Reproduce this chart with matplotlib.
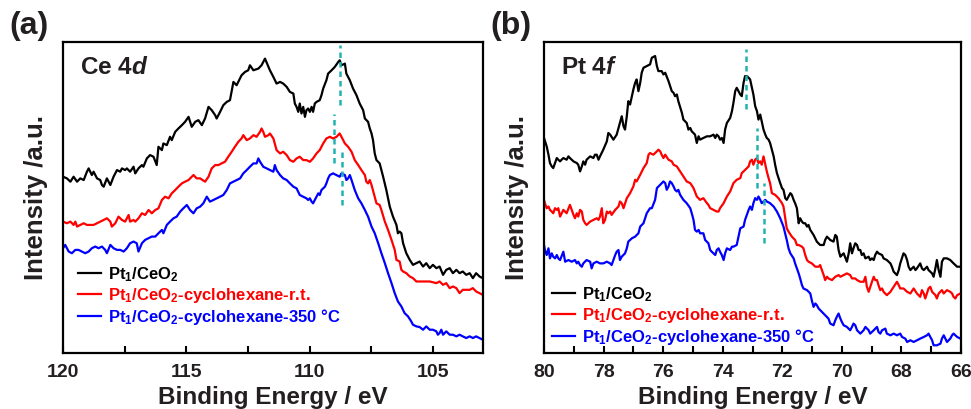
import matplotlib
matplotlib.use("Agg")
import matplotlib.pyplot as plt
from matplotlib.ticker import MultipleLocator

plt.rcParams['font.family'] = ['Liberation Sans', 'DejaVu Sans']
plt.rcParams['font.weight'] = 'bold'
plt.rcParams['mathtext.fontset'] = 'custom'
plt.rcParams['mathtext.rm'] = 'Liberation Sans:bold'
plt.rcParams['mathtext.bf'] = 'Liberation Sans:bold'
plt.rcParams['mathtext.it'] = 'Liberation Sans:bold:italic'

TXT = '#231F20'

# ---------------- Panel (a): Ce 4d ----------------
a_black_be = [120.0, 119.84, 119.70, 119.57, 119.43, 119.30, 119.16, 119.03, 118.96, 118.83, 118.76, 118.62, 118.49, 118.42, 118.35, 118.22, 118.08, 117.95, 117.81, 117.68, 117.61, 117.48, 117.41, 117.28, 117.14, 117.07, 116.94, 116.80, 116.74, 116.60, 116.47, 116.33, 116.20, 116.13, 115.99, 115.93, 115.79, 115.66, 115.59, 115.45, 115.32, 115.18, 115.05, 114.91, 114.78, 114.64, 114.51, 114.37, 114.24, 114.10, 113.97, 113.83, 113.77, 113.63, 113.50, 113.36, 113.23, 113.09, 112.96, 112.76, 112.62, 112.49, 112.42, 112.28, 112.08, 111.95, 111.81, 111.67,
              111.61, 111.47, 111.34, 111.20, 111.07, 110.93, 110.80, 110.66, 110.60, 110.53, 110.46, 110.40, 110.33, 110.26, 110.19, 110.13, 110.06, 109.99, 109.92, 109.86, 109.79, 109.72, 109.59, 109.52, 109.45, 109.32, 109.25, 109.11, 108.98, 108.84, 108.78, 108.71, 108.57, 108.51, 108.37, 108.24, 108.10, 107.97, 107.83, 107.76, 107.63, 107.56, 107.49, 107.43, 107.36, 107.29, 107.16, 107.02, 106.89, 106.75, 106.62, 106.48, 106.42, 106.35, 106.28, 106.21, 106.08, 105.94, 105.81, 105.67, 105.54, 105.40, 105.27, 105.13, 105.00, 104.86, 104.73, 104.59, 104.46, 104.32, 104.19, 104.05, 103.92, 103.79, 103.65, 103.51, 103.38, 103.25, 103.11, 102.98]
a_black_int = [530, 525, 515, 530, 515, 525, 520, 545, 555, 535, 545, 525, 520, 505, 500, 525, 505, 530, 550, 545, 555, 550, 555, 545, 560, 540, 555, 565, 560, 585, 595, 590, 565, 620, 610, 630, 625, 650, 640, 665, 675, 685, 695, 710, 680, 695, 700, 685, 705, 740, 730, 715, 705, 725, 745, 755, 760, 815, 805, 835, 845, 850, 865, 850, 855, 865, 885, 860,
               850, 830, 810, 815, 810, 800, 785, 780, 750, 740, 725, 750, 720, 740, 710, 730, 735, 725, 740, 725, 750, 755, 760, 775, 795, 820, 840, 850, 860, 875, 880, 865, 870, 840, 820, 795, 775, 750, 730, 705, 695, 675, 660, 640, 600, 580, 570, 530, 490, 440, 410, 385, 360, 365, 360, 330, 300, 280, 265, 270, 275, 260, 270, 255, 265, 255, 260, 235, 250, 255, 240, 250, 240, 245, 235, 240, 225, 240, 230, 225]

a_red_be = [120.0, 119.84, 119.70, 119.57, 119.50, 119.43, 119.30, 119.16, 119.03, 118.76, 118.62, 118.49, 118.35, 118.22, 118.08, 118.02, 117.88, 117.75, 117.61, 117.48, 117.34, 117.28, 117.14, 117.07, 116.94, 116.80, 116.67, 116.53, 116.40, 116.26, 116.13, 115.99, 115.86, 115.72, 115.59, 115.45, 115.32, 115.18, 115.05, 114.91, 114.78, 114.71, 114.58, 114.44, 114.24, 114.10, 113.97, 113.83, 113.70, 113.57, 113.43, 113.30, 113.16, 113.03, 112.89, 112.76, 112.69, 112.55, 112.42, 112.28, 112.15, 112.01, 111.95, 111.88, 111.81, 111.67,
            111.61, 111.47, 111.34, 111.20, 111.07, 110.93, 110.80, 110.66, 110.53, 110.40, 110.26, 110.13, 109.99, 109.86, 109.72, 109.59, 109.45, 109.32, 109.18, 109.05, 108.91, 108.78, 108.71, 108.57, 108.44, 108.30, 108.17, 108.03, 107.90, 107.76, 107.70, 107.63, 107.56, 107.49, 107.36, 107.29, 107.16, 107.09, 106.95, 106.82, 106.68, 106.55, 106.48, 106.35, 106.28, 106.21, 106.08, 105.94, 105.81, 105.67, 105.40, 105.13, 104.86, 104.73, 104.59, 104.46, 104.32, 104.19, 104.05, 103.92, 103.79, 103.51, 103.38, 103.25, 103.11, 102.98]
a_red_int = [395, 390, 395, 385, 395, 380, 385, 390, 385, 385, 390, 395, 400, 405, 395, 380, 390, 410, 400, 395, 415, 395, 400, 395, 405, 420, 415, 430, 420, 430, 435, 460, 470, 465, 480, 490, 500, 510, 515, 520, 530, 535, 525, 525, 515, 530, 555, 565, 565, 570, 575, 590, 605, 620, 635, 645, 655, 640, 645, 655, 650, 665, 675, 665, 650, 655,
             660, 645, 610, 600, 605, 595, 580, 575, 585, 590, 580, 580, 575, 585, 600, 610, 630, 645, 650, 645, 650, 660, 650, 630, 620, 605, 580, 565, 550, 535, 515, 510, 520, 505, 470, 450, 445, 430, 395, 370, 340, 310, 280, 275, 250, 245, 240, 230, 225, 215, 215, 215, 210, 215, 205, 210, 195, 200, 195, 180, 190, 190, 195, 185, 180, 175]

a_blue_be = [120.0, 119.91, 119.77, 119.64, 119.50, 119.37, 119.23, 119.10, 118.96, 118.83, 118.69, 118.56, 118.42, 118.29, 118.22, 118.08, 117.95, 117.81, 117.68, 117.54, 117.41, 117.28, 117.14, 117.01, 116.94, 116.80, 116.67, 116.53, 116.40, 116.26, 116.13, 115.99, 115.93, 115.79, 115.66, 115.52, 115.39, 115.25, 115.12, 114.98, 114.85, 114.71, 114.58, 114.44, 114.31, 114.17, 114.04, 113.90, 113.77, 113.63, 113.50, 113.36, 113.23, 113.09, 112.96, 112.82, 112.69, 112.55, 112.42, 112.28, 112.15, 112.08, 112.01, 111.88, 111.74,
             111.61, 111.47, 111.41, 111.34, 111.20, 111.07, 110.93, 110.80, 110.66, 110.53, 110.40, 110.26, 110.13, 110.06, 109.99, 109.92, 109.86, 109.79, 109.72, 109.65, 109.59, 109.52, 109.45, 109.38, 109.32, 109.25, 109.18, 109.05, 108.91, 108.78, 108.71, 108.57, 108.51, 108.44, 108.37, 108.30, 108.17, 108.03, 107.90, 107.76, 107.63, 107.49, 107.36, 107.22, 107.09, 106.95, 106.82, 106.68, 106.55, 106.42, 106.28, 106.15, 106.01, 105.88, 105.81, 105.67, 105.54, 105.40, 105.27, 105.13, 105.00, 104.86, 104.80, 104.73, 104.66, 104.59, 104.46, 104.32, 104.19, 104.05, 103.92, 103.79, 103.65, 103.51, 103.38, 103.25, 103.11, 102.98]
a_blue_int = [315, 325, 305, 300, 310, 310, 305, 300, 305, 315, 320, 315, 320, 310, 300, 325, 315, 310, 310, 305, 315, 330, 335, 330, 305, 330, 340, 345, 350, 350, 360, 370, 360, 385, 395, 405, 410, 425, 435, 445, 430, 420, 435, 440, 450, 470, 455, 460, 465, 470, 475, 490, 510, 515, 520, 525, 540, 550, 560, 570, 570, 585, 575, 560, 555,
              550, 545, 565, 550, 535, 525, 520, 510, 500, 495, 475, 470, 465, 460, 465, 455, 450, 460, 470, 480, 475, 490, 495, 500, 510, 525, 535, 540, 535, 530, 540, 535, 520, 525, 535, 520, 490, 465, 450, 430, 410, 380, 360, 330, 300, 270, 240, 210, 180, 155, 140, 120, 110, 95, 85, 80, 78, 70, 80, 70, 70, 65, 55, 60, 70, 55, 65, 55, 55, 50, 55, 50, 45, 50, 45, 50, 45, 40]

a_marker_be = [108.78, 109.01, 108.68]
a_marker_lo = [745, 570, 445]
a_marker_hi = [925, 720, 605]

# ---------------- Panel (b): Pt 4f ----------------
b_black_be = [80.0, 79.91, 79.85, 79.80, 79.74, 79.69, 79.63, 79.57, 79.52, 79.46, 79.41, 79.35, 79.24, 79.18, 79.13, 79.01, 78.90, 78.85, 78.79, 78.73, 78.68, 78.62, 78.57, 78.45, 78.34, 78.29, 78.23, 78.17, 78.12, 78.01, 77.89, 77.84, 77.78, 77.67, 77.56, 77.45, 77.39, 77.33, 77.28, 77.22, 77.17, 77.11, 77.05, 77.00, 76.94, 76.89, 76.83, 76.77, 76.72, 76.66, 76.55, 76.44, 76.38, 76.27, 76.21, 76.16, 76.05, 75.99, 75.93, 75.82, 75.71, 75.65, 75.60, 75.54, 75.49, 75.37, 75.32, 75.21, 75.15, 75.09, 75.04, 74.93, 74.87, 74.81, 74.76, 74.65, 74.53, 74.42, 74.31, 74.25, 74.20, 74.14, 74.09, 74.03, 73.97, 73.92, 73.86, 73.75, 73.69, 73.64, 73.58, 73.53, 73.41, 73.36, 73.30, 73.25, 73.19, 73.13,
              73.08, 72.97, 72.91, 72.85, 72.80, 72.74, 72.69, 72.63, 72.57, 72.52, 72.46, 72.41, 72.29, 72.24, 72.18, 72.07, 72.01, 71.96, 71.90, 71.85, 71.79, 71.73, 71.68, 71.62, 71.57, 71.51, 71.45, 71.40, 71.34, 71.29, 71.23, 71.17, 71.12, 71.06, 70.95, 70.84, 70.73, 70.61, 70.56, 70.50, 70.39, 70.28, 70.22, 70.17, 70.11, 70.05, 70.00, 69.94, 69.83, 69.77, 69.72, 69.66, 69.61, 69.55, 69.49, 69.44, 69.38, 69.33, 69.27, 69.21, 69.10, 69.05, 68.99, 68.93, 68.88, 68.82, 68.77, 68.65, 68.60, 68.49, 68.37, 68.32, 68.26, 68.15, 68.09, 68.04, 67.93, 67.87, 67.81, 67.76, 67.70, 67.59, 67.53, 67.48, 67.37, 67.31, 67.25, 67.14, 67.09, 66.97, 66.92, 66.86, 66.81, 66.75, 66.69, 66.64, 66.58, 66.47, 66.36, 66.25, 66.13, 66.02]
b_black_int = [645, 620, 595, 570, 560, 555, 570, 585, 580, 575, 580, 585, 580, 590, 585, 575, 570, 565, 545, 560, 575, 565, 580, 590, 585, 595, 595, 580, 590, 610, 635, 660, 655, 640, 655, 690, 710, 680, 670, 710, 755, 745, 770, 790, 810, 820, 785, 810, 840, 855, 860, 865, 885, 890, 860, 845, 845, 835, 840, 815, 785, 780, 770, 775, 755, 720, 700, 690, 670, 675, 665, 655, 630, 650, 640, 645, 650, 650, 655, 645, 655, 650, 640, 645, 630, 670, 690, 705, 725, 750, 785, 795, 775, 770, 810, 830, 830, 825,
               820, 775, 740, 725, 700, 715, 695, 670, 655, 645, 640, 630, 590, 565, 540, 510, 495, 490, 465, 460, 470, 480, 475, 460, 450, 435, 390, 405, 395, 390, 390, 380, 385, 370, 355, 335, 325, 325, 340, 350, 340, 335, 355, 350, 310, 290, 295, 300, 275, 300, 330, 300, 315, 330, 325, 310, 310, 295, 300, 285, 290, 280, 285, 280, 295, 305, 300, 295, 285, 280, 270, 260, 245, 235, 250, 270, 300, 295, 280, 260, 250, 260, 250, 255, 270, 255, 250, 260, 250, 240, 230, 255, 280, 250, 230, 275, 285, 285, 280, 270, 260, 260]

b_red_be = [80.0, 79.97, 79.91, 79.85, 79.80, 79.74, 79.69, 79.63, 79.57, 79.52, 79.46, 79.35, 79.24, 79.13, 79.07, 79.01, 78.96, 78.90, 78.85, 78.79, 78.73, 78.68, 78.62, 78.57, 78.51, 78.45, 78.34, 78.23, 78.17, 78.12, 78.06, 78.01, 77.95, 77.89, 77.84, 77.78, 77.73, 77.61, 77.50, 77.45, 77.39, 77.33, 77.22, 77.11, 77.00, 76.94, 76.89, 76.77, 76.66, 76.55, 76.49, 76.44, 76.33, 76.21, 76.16, 76.10, 76.05, 75.99, 75.93, 75.82, 75.71, 75.65, 75.54, 75.43, 75.32, 75.21, 75.09, 74.98, 74.87, 74.76, 74.65, 74.53, 74.48, 74.42, 74.31, 74.20, 74.14, 74.09, 73.97, 73.86, 73.75, 73.64, 73.53, 73.41, 73.36, 73.30, 73.19, 73.13,
            73.08, 73.02, 72.97, 72.91, 72.85, 72.80, 72.74, 72.69, 72.63, 72.57, 72.52, 72.46, 72.41, 72.35, 72.24, 72.13, 72.01, 71.96, 71.90, 71.85, 71.79, 71.68, 71.57, 71.51, 71.45, 71.34, 71.29, 71.23, 71.17, 71.12, 71.01, 70.89, 70.78, 70.73, 70.67, 70.61, 70.56, 70.50, 70.45, 70.33, 70.22, 70.11, 70.05, 69.94, 69.83, 69.72, 69.66, 69.55, 69.49, 69.38, 69.27, 69.21, 69.16, 69.10, 68.99, 68.93, 68.88, 68.82, 68.77, 68.71, 68.65, 68.60, 68.49, 68.37, 68.26, 68.15, 68.09, 68.04, 67.93, 67.81, 67.70, 67.59, 67.48, 67.37, 67.31, 67.25, 67.20, 67.09, 67.03, 66.97, 66.86, 66.81, 66.75, 66.64, 66.58, 66.47, 66.36, 66.30, 66.25, 66.19, 66.13, 66.02]
b_red_int = [460, 450, 435, 440, 430, 425, 420, 435, 430, 435, 410, 430, 420, 445, 430, 415, 405, 420, 410, 430, 425, 400, 390, 385, 390, 395, 400, 405, 400, 410, 435, 390, 400, 425, 420, 425, 415, 430, 440, 455, 450, 435, 465, 480, 500, 520, 515, 535, 555, 570, 595, 600, 595, 605, 610, 605, 595, 585, 595, 580, 575, 565, 560, 545, 530, 515, 510, 495, 470, 460, 465, 450, 445, 435, 430, 425, 425, 435, 450, 470, 485, 510, 520, 525, 540, 545, 555, 560,
             575, 580, 565, 580, 585, 570, 575, 565, 590, 565, 545, 525, 510, 480, 475, 465, 450, 440, 405, 375, 365, 350, 340, 325, 325, 320, 315, 295, 280, 275, 270, 260, 260, 265, 250, 235, 220, 230, 225, 220, 230, 235, 230, 235, 240, 235, 225, 225, 220, 215, 215, 230, 200, 185, 215, 230, 220, 220, 205, 190, 195, 185, 175, 185, 200, 215, 205, 195, 195, 185, 180, 195, 180, 170, 190, 180, 165, 195, 200, 185, 175, 165, 180, 190, 180, 190, 185, 180, 170, 165, 175, 180]

b_blue_be = [80.0, 79.97, 79.91, 79.85, 79.80, 79.74, 79.69, 79.63, 79.57, 79.52, 79.46, 79.35, 79.29, 79.18, 79.07, 78.96, 78.90, 78.85, 78.79, 78.73, 78.68, 78.57, 78.45, 78.40, 78.34, 78.23, 78.12, 78.01, 77.89, 77.78, 77.73, 77.67, 77.61, 77.56, 77.50, 77.45, 77.39, 77.28, 77.22, 77.17, 77.05, 76.94, 76.83, 76.77, 76.66, 76.55, 76.44, 76.38, 76.27, 76.21, 76.10, 75.99, 75.93, 75.88, 75.82, 75.77, 75.71, 75.65, 75.60, 75.54, 75.49, 75.43, 75.32, 75.21, 75.09, 75.04, 74.98, 74.93, 74.87, 74.81, 74.76, 74.65, 74.59, 74.48, 74.42, 74.37, 74.31, 74.25, 74.20, 74.14, 74.09, 74.03, 73.97, 73.92, 73.86, 73.75, 73.69, 73.64, 73.53, 73.47, 73.41, 73.30, 73.25, 73.13,
             73.08, 73.02, 72.97, 72.91, 72.85, 72.80, 72.74, 72.69, 72.63, 72.57, 72.52, 72.41, 72.29, 72.18, 72.07, 71.96, 71.85, 71.79, 71.73, 71.62, 71.57, 71.51, 71.45, 71.40, 71.34, 71.29, 71.17, 71.06, 71.01, 70.95, 70.89, 70.84, 70.78, 70.67, 70.56, 70.45, 70.39, 70.28, 70.22, 70.17, 70.11, 70.05, 70.00, 69.94, 69.83, 69.72, 69.66, 69.61, 69.55, 69.49, 69.38, 69.27, 69.21, 69.10, 69.05, 68.93, 68.82, 68.77, 68.71, 68.65, 68.54, 68.49, 68.37, 68.26, 68.15, 68.04, 67.98, 67.87, 67.81, 67.70, 67.59, 67.48, 67.37, 67.25, 67.14, 67.09, 66.97, 66.92, 66.81, 66.69, 66.64, 66.58, 66.47, 66.36, 66.30, 66.25, 66.13, 66.02]
b_blue_int = [325, 310, 295, 315, 285, 300, 290, 285, 295, 285, 280, 305, 275, 280, 275, 280, 270, 275, 265, 260, 270, 280, 275, 255, 270, 275, 270, 270, 275, 270, 265, 280, 295, 305, 310, 280, 290, 300, 315, 335, 345, 350, 360, 380, 390, 420, 435, 435, 460, 495, 505, 515, 510, 490, 500, 515, 510, 500, 490, 485, 490, 475, 460, 450, 435, 420, 400, 370, 365, 370, 360, 360, 340, 330, 310, 305, 300, 295, 310, 315, 305, 295, 280, 300, 315, 310, 320, 320, 325, 350, 375, 380, 400, 430,
              440, 430, 450, 465, 460, 470, 460, 450, 455, 460, 455, 450, 440, 425, 405, 380, 340, 315, 300, 285, 270, 255, 240, 225, 205, 195, 190, 180, 160, 140, 150, 145, 135, 125, 115, 105, 90, 85, 100, 110, 120, 105, 95, 85, 80, 70, 80, 90, 85, 70, 60, 70, 80, 70, 60, 70, 80, 65, 60, 70, 75, 60, 55, 60, 55, 60, 50, 45, 35, 40, 35, 40, 45, 50, 55, 60, 40, 25, 25, 30, 45, 55, 35, 45, 55, 60, 50, 45]

b_marker_be = [73.21, 72.85, 72.60]
b_marker_lo = [732, 495, 330]
b_marker_hi = [912, 675, 510]

labels = [r'Pt$_1$/CeO$_2$',
          r'Pt$_1$/CeO$_2$-cyclohexane-r.t.',
          r'Pt$_1$/CeO$_2$-cyclohexane-350 °C']
colors = ['#000000', '#FF0000', '#0000FF']
dash_color = '#22B2B2'

fig = plt.figure(figsize=(9.71, 4.09), dpi=100)
ax_a = fig.add_axes([63/971, 56/409, 420/971, 311/409])
ax_b = fig.add_axes([544/971, 56/409, 417/971, 311/409])

panels = [
    (ax_a, [(a_black_be, a_black_int), (a_red_be, a_red_int), (a_blue_be, a_blue_int)],
     (120, 102.97), (0, 935), 5, 2.5, r'Ce 4$\mathit{d}$', '(a)',
     (a_marker_be, a_marker_lo, a_marker_hi), (0.035, 0.085)),
    (ax_b, [(b_black_be, b_black_int), (b_red_be, b_red_int), (b_blue_be, b_blue_int)],
     (80, 66), (2, 932), 2, 1, r'Pt $\mathit{4f}$', '(b)',
     (b_marker_be, b_marker_lo, b_marker_hi), (0.018, 0.02)),
]

for ax, series, xl, yl, maj, mnr, title, tag, mk, legpos in panels:
    for (be, inten), c, lab in zip(series, colors, labels):
        ax.plot(be, inten, color=c, lw=1.6, label=lab)
    for e, lo, hi in zip(*mk):
        ax.plot([e, e], [lo, hi], color=dash_color, lw=1.8, ls=(0, (2.2, 1.6)))
    ax.set_xlim(*xl)
    ax.set_ylim(*yl)
    ax.xaxis.set_major_locator(MultipleLocator(maj))
    ax.xaxis.set_minor_locator(MultipleLocator(mnr))
    ax.set_yticks([])
    ax.tick_params(axis='x', which='both', direction='in', length=5, width=1.5,
                   top=False, labelsize=14, pad=8, colors='black', labelcolor=TXT)
    for lab_ in ax.get_xticklabels():
        lab_.set_fontweight('bold')
    for sp in ax.spines.values():
        sp.set_linewidth(1.6)
    ax.set_xlabel('Binding Energy / eV', fontsize=17.5, fontweight='bold', color=TXT, labelpad=3.5)
    ax.set_ylabel('Intensity /a.u.', fontsize=18.5, fontweight='bold', color=TXT, labelpad=11)
    ax.text(0.04, 0.955, title, transform=ax.transAxes, fontsize=17.5, fontweight='bold',
            color=TXT, va='top', ha='left')
    leg = ax.legend(loc='lower left', bbox_to_anchor=legpos, frameon=False,
                    prop={'weight': 'bold', 'size': 12}, labelcolor='linecolor',
                    handlelength=1.4, handletextpad=0.42, labelspacing=0.12,
                    borderpad=0, borderaxespad=0)
    pos = ax.get_position()
    fig.text(pos.x0 - 54/971, 1 - 11/409, tag, fontsize=23, fontweight='bold',
             color=TXT, va='top', ha='left')

fig.savefig('out.png', dpi=100)
